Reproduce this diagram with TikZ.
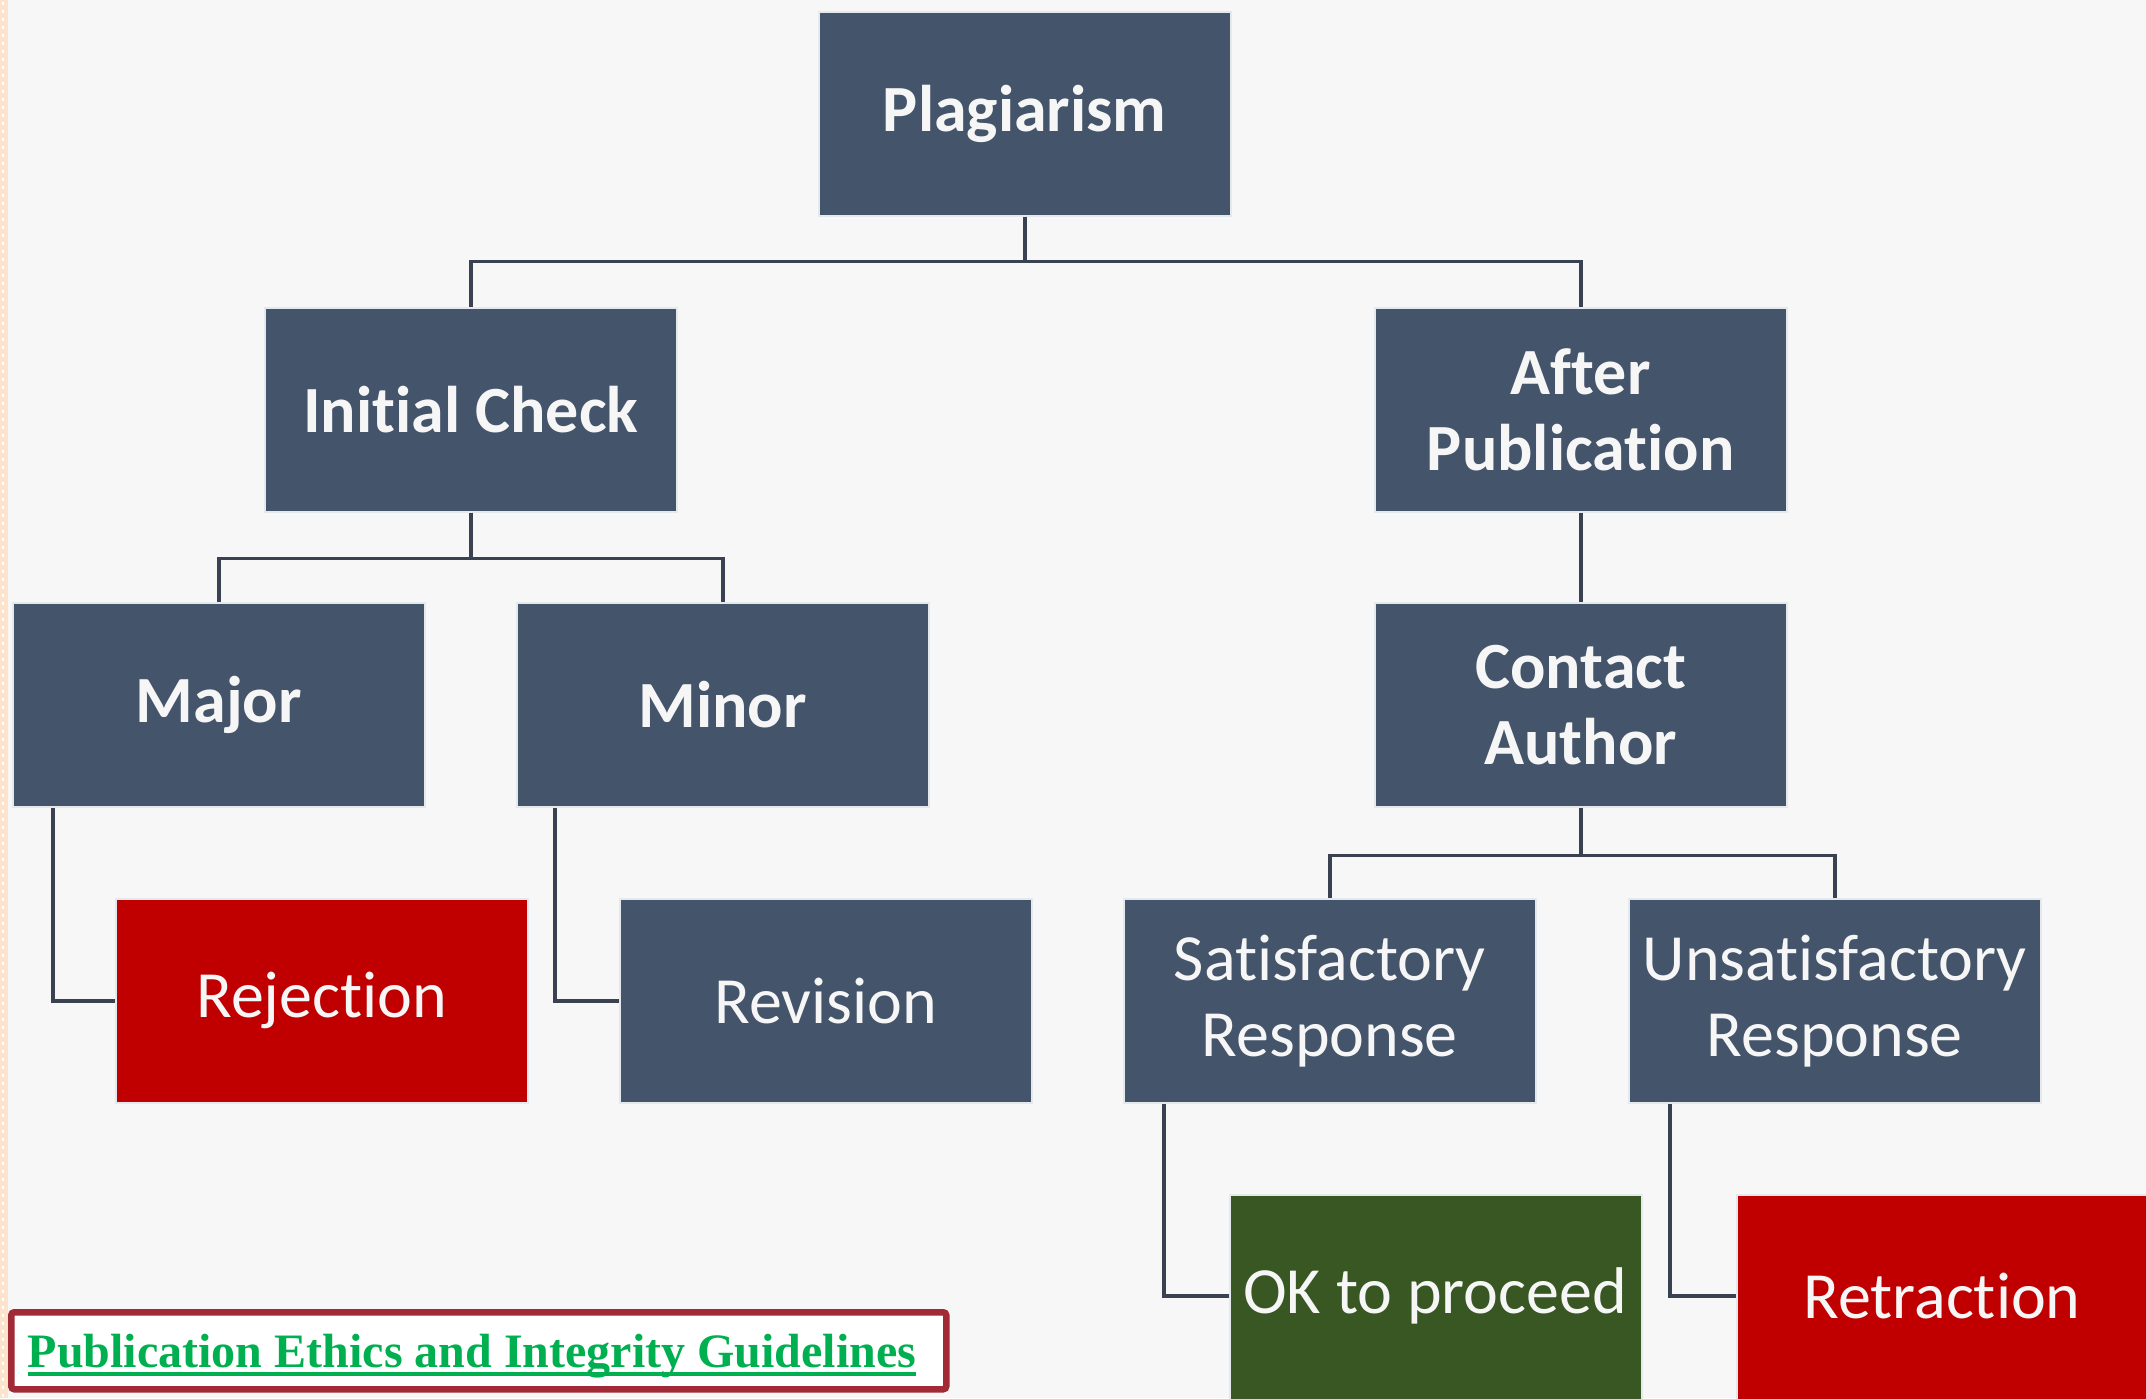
\documentclass[tikz,border=0pt]{standalone}
\usepackage{fontspec}
\setmainfont[Ligatures=NoCommon,Contextuals=NoAlternate]{Carlito}
\newfontfamily\footfont{Liberation Serif}
\newcommand{\nl}{\kern0pt}
\definecolor{bgc}{RGB}{247,247,247}
\definecolor{slate}{RGB}{68,84,106}
\definecolor{redbox}{RGB}{192,0,0}
\definecolor{greenbox}{RGB}{56,87,35}
\definecolor{connc}{RGB}{58,65,80}
\definecolor{edgec}{RGB}{228,233,238}
\definecolor{footred}{RGB}{161,42,54}
\definecolor{footgreen}{RGB}{0,176,80}
\definecolor{peach}{RGB}{253,227,204}
\begin{document}
\begin{tikzpicture}[x=1pt,y=-1pt,
  box/.style={anchor=north west, minimum width=412pt, minimum height=204pt,
    inner sep=0pt, draw=edgec, line width=1.5pt, fill=slate, text={rgb,255:red,246;green,246;blue,246},
    align=center, font=\fontsize{66}{76}\selectfont},
  bbox/.style={box, font=\fontsize{66}{76}\selectfont\bfseries},
  conn/.style={draw=connc, line width=3.5pt}]
\fill[bgc] (0,0) rectangle (2146,1398);
\useasboundingbox (0,0) rectangle (2146,1398);
\fill[peach] (0,0) rectangle (8,1398);
\draw[white, line width=2.5pt, dash pattern=on 2.5pt off 5.5pt] (3,2) -- (3,1398);

% row 1
\node[bbox] (plag) at (818,11) {Plagiarism};
% row 2
\node[bbox] (init) at (264,307) {Init\nl ial Check};
\node[bbox] (after) at (1374,307) {After\\Publicat\nl ion};
% row 3
\node[bbox] (major) at (12,602) {Major};
\node[bbox] (minor) at (516,602) {Minor};
\node[bbox] (contact) at (1374,602) {Contact\\Author};
% row 4
\node[box, fill=redbox] (rej) at (115,898) {Reject\nl ion};
\node[box] (rev) at (619,898) {Revision};
\node[box] (sat) at (1123,898) {Satisfactory\\Response};
\node[box] (unsat) at (1628,898) {Unsatisfactory\\Response};
% row 5
\node[box, fill=greenbox, minimum height=210pt] (ok) at (1229,1194) {};
\node[anchor=center, text={rgb,255:red,246;green,246;blue,246}, font=\fontsize{66}{76}\selectfont] (oktext) at (1435,1296) {OK to proceed};
\node[box, fill=redbox, minimum height=210pt] (retr) at (1736,1194) {};
\node[anchor=center, text={rgb,255:red,246;green,246;blue,246}, font=\fontsize{66}{76}\selectfont] (retrtext) at (1942,1296) {Retract\nl ion};

% connectors
\draw[conn] (plag.south) -- ++(0,45) -| (init.north);
\draw[conn] (plag.south) -- ++(0,45) -| (after.north);
\draw[conn] (init.south) -- ++(0,46) -| (major.north);
\draw[conn] (init.south) -- ++(0,46) -| (minor.north);
\draw[conn] (after.south) -- (contact.north);
\draw[conn] (contact.south) -- ++(0,48) -| (sat.north);
\draw[conn] (contact.south) -- ++(0,48) -| (unsat.north);
\draw[conn] ([xshift=41pt]major.south west) |- (rej.west);
\draw[conn] ([xshift=39pt]minor.south west) |- (rev.west);
\draw[conn] ([xshift=41pt]sat.south west) |- (ok.west |- oktext.center);
\draw[conn] ([xshift=42pt]unsat.south west) |- (retr.west |- retrtext.center);

% footer
\node[anchor=north west, draw=footred, line width=6.5pt, fill=white, rounded corners=3pt,
  minimum width=935pt, minimum height=77pt, inner sep=0pt] (foot) at (8,1309) {};
\node[anchor=base, inner sep=0pt, text=footgreen, font=\footfont\bfseries\fontsize{48}{50}\selectfont] (ftext) at (472,1367) {Publication Ethics and Integrity Guidelines};
\draw[footgreen, line width=4pt] ([yshift=-7pt]ftext.base west) -- ([yshift=-7pt]ftext.base east);
\end{tikzpicture}
\end{document}
